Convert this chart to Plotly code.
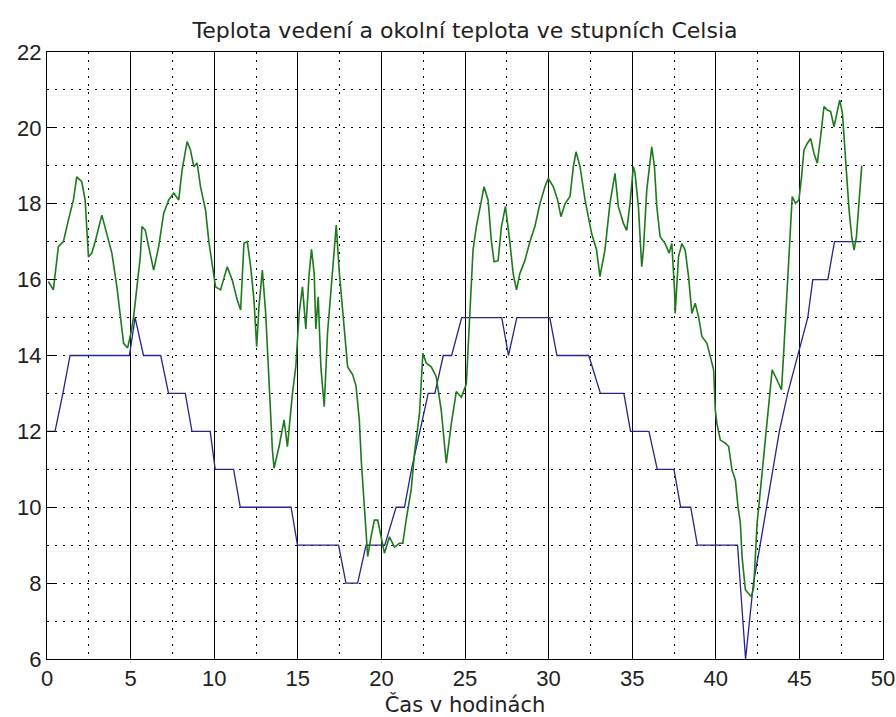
import plotly.graph_objects as go

# Green series: ambient temperature
green_x = [0.08, 0.38, 0.68, 0.98, 1.28, 1.58, 1.78, 2.08, 2.28, 2.48, 2.68, 2.88, 3.28, 3.58, 3.88,
           4.18, 4.38, 4.58, 4.82, 5.02, 5.18, 5.38, 5.58, 5.68, 5.88, 6.08, 6.38, 6.68, 6.98, 7.28,
           7.58, 7.88, 8.08, 8.38, 8.58, 8.78, 8.98, 9.18, 9.48, 9.68, 9.88, 10.08, 10.38, 10.78,
           11.08, 11.38, 11.58, 11.78, 11.98, 12.18, 12.38, 12.54, 12.68, 12.88, 13.08, 13.28, 13.48,
           13.58, 13.88, 14.18, 14.38, 14.68, 14.88, 15.08, 15.28, 15.48, 15.68, 15.82, 15.98, 16.08,
           16.22, 16.38, 16.58, 16.78, 16.98, 17.18, 17.30, 17.48, 17.68, 17.98, 18.28, 18.48, 18.68,
           18.80, 18.98, 19.18, 19.38, 19.58, 19.78, 19.98, 20.18, 20.48, 20.78, 21.08, 21.28, 21.48,
           21.78, 21.98, 22.28, 22.48, 22.68, 22.98, 23.28, 23.58, 23.78, 23.88, 24.18, 24.48, 24.78,
           25.08, 25.28, 25.48, 25.68, 25.88, 26.14, 26.38, 26.58, 26.74, 26.98, 27.18, 27.42, 27.68,
           27.88, 28.08, 28.28, 28.58, 28.88, 29.18, 29.48, 29.78, 29.98, 30.28, 30.54, 30.74, 30.98,
           31.28, 31.48, 31.64, 31.88, 32.18, 32.57, 32.87, 33.07, 33.37, 33.67, 33.97, 34.17, 34.47,
           34.67, 34.87, 35.07, 35.17, 35.37, 35.57, 35.67, 35.87, 36.17, 36.33, 36.47, 36.67, 36.97,
           37.21, 37.37, 37.53, 37.57, 37.77, 37.97, 38.17, 38.37, 38.57, 38.77, 38.97, 39.17, 39.47,
           39.67, 39.87, 39.97, 40.07, 40.27, 40.57, 40.77, 40.97, 41.17, 41.33, 41.47, 41.57, 41.77,
           41.97, 42.13, 42.27, 42.37, 42.47, 42.67, 42.87, 43.07, 43.27, 43.37, 43.57, 43.77, 43.93,
           44.07, 44.27, 44.47, 44.57, 44.77, 44.97, 45.13, 45.27, 45.47, 45.67, 45.87, 46.07, 46.27,
           46.47, 46.67, 46.87, 47.07, 47.27, 47.41, 47.57, 47.73, 47.87, 47.97, 48.13, 48.27, 48.41,
           48.57, 48.73]
green_y = [15.95, 15.73, 16.87, 17.0, 17.57, 18.1, 18.71, 18.58, 18.1, 16.6, 16.7, 17.0, 17.7, 17.22, 16.7,
           15.81, 15.11, 14.32, 14.2, 14.59, 15.02, 15.81, 16.6, 17.4, 17.3, 16.87, 16.25, 16.87, 17.75, 18.1,
           18.28, 18.1, 18.89, 19.64, 19.42, 18.98, 19.07, 18.45, 17.84, 17.0, 16.34, 15.81, 15.73, 16.34,
           15.99, 15.46, 15.2, 16.96, 17.0, 16.34, 15.46, 14.23, 15.3, 16.25, 15.11, 13.35, 11.51,
           11.03, 11.6, 12.3, 11.6, 13.0, 13.7, 15.11, 15.81, 14.7, 16.16, 16.8, 16.16, 14.7,
           15.55, 13.7, 12.65, 14.6, 15.63, 16.87, 17.44, 16.2, 15.11, 13.7, 13.5, 13.2, 12.3,
           11.2, 10.02, 8.7, 9.22, 9.66, 9.66, 9.22, 8.79, 9.22, 8.95, 9.05, 9.05, 9.66,
           10.46, 11.42, 12.48, 14.06, 13.8, 13.7, 13.44, 12.55, 11.6, 11.16, 12.2, 13.05, 12.9,
           13.25, 15.02, 16.78, 17.4, 17.84, 18.45, 18.1, 17.0, 16.47, 16.5, 17.4, 17.93, 17.0,
           16.16, 15.73, 16.16, 16.5, 17.0, 17.4, 18.0, 18.45, 18.67, 18.45, 18.1, 17.66, 18.0,
           18.19, 18.98, 19.37, 18.98, 18.1, 17.22, 16.78, 16.08, 16.78, 18.01, 18.8, 17.93, 17.49,
           17.3, 18.01, 18.98, 18.8, 17.93, 16.34, 16.78, 18.36, 19.5, 18.98, 17.93, 17.13, 16.95,
           16.7, 16.95, 15.73, 15.11, 16.6, 16.95, 16.78, 16.08, 15.11, 15.38, 15.02, 14.5, 14.32,
           13.97, 13.62, 12.56, 12.2, 11.77, 11.69, 11.6, 10.98, 10.72, 10.0, 9.58, 8.7, 7.82,
           7.73, 7.64, 7.9, 8.62, 9.58, 10.46, 11.33, 12.2, 13.0, 13.62, 13.44, 13.27, 13.1,
           14.15, 15.9, 17.49, 18.19, 18.01, 18.1, 18.71, 19.41, 19.59, 19.72, 19.33, 19.07, 19.77,
           20.56, 20.47, 20.43, 20.03, 20.47, 20.73, 20.4, 19.33, 18.36, 17.84, 17.13, 16.78, 17.13,
           18.01, 19.0]

# Blue series: conductor temperature
blue_x = [0.0, 0.48, 0.95, 1.38, 4.93, 5.27, 5.77, 6.8, 7.27, 8.27, 8.67, 9.76, 10.06, 11.16, 11.56,
          14.6, 14.98, 17.44, 17.88, 18.58, 19.08, 20.2, 20.88, 21.38, 21.8, 22.3, 22.8, 23.2, 23.7,
          24.2, 24.8, 27.2, 27.6, 28.1, 30.07, 30.5, 32.4, 33.1, 34.5, 34.9, 36.0, 36.5, 37.5, 37.9,
          38.5, 38.9, 41.3, 41.78, 42.25, 42.65, 43.8, 44.3, 44.9, 45.5, 45.8, 46.7, 47.1, 48.7]
blue_y = [12.0, 12.0, 13.0, 14.0, 14.0, 15.0, 14.0, 14.0, 13.0, 13.0, 12.0, 12.0, 11.0, 11.0, 10.0,
          10.0, 9.0, 9.0, 8.0, 8.0, 9.0, 9.0, 10.0, 10.0, 11.0, 12.0, 13.0, 13.0, 14.0,
          14.0, 15.0, 15.0, 14.0, 15.0, 15.0, 14.0, 14.0, 13.0, 13.0, 12.0, 12.0, 11.0, 11.0, 10.0,
          10.0, 9.0, 9.0, 6.0, 8.0, 9.0, 12.0, 13.0, 14.0, 15.0, 16.0, 16.0, 17.0, 17.0]

x_ticks = [0, 5, 10, 15, 20, 25, 30, 35, 40, 45, 50]
y_ticks = [6, 8, 10, 12, 14, 16, 18, 20, 22]

title_text = "Teplota vedení a okolní teplota ve stupních Celsia"
x_title = "Čas v hodinách"

TICK_FONT = "Liberation Sans, Arial, sans-serif"
TEXT_FONT = "DejaVu Sans, Verdana, sans-serif"

fig = go.Figure()
fig.add_trace(go.Scatter(x=blue_x, y=blue_y, mode="lines",
                         line=dict(color="#25258a", width=1.3), showlegend=False))
fig.add_trace(go.Scatter(x=green_x, y=green_y, mode="lines",
                         line=dict(color="#1c7a1c", width=1.6), showlegend=False))

fig.update_layout(
    width=896, height=717,
    margin=dict(l=47, r=13, t=52, b=58),
    paper_bgcolor="white", plot_bgcolor="white",
    font=dict(family=TICK_FONT, size=22, color="#222"),
    title=dict(text=title_text, x=(47 + 883) / 2 / 896, xanchor="center",
               y=1 - 30 / 717, yanchor="middle", yref="container",
               font=dict(family=TEXT_FONT, size=22, color="#222")),
)

fig.update_xaxes(
    range=[0, 50], tickvals=x_ticks, ticktext=[str(v) for v in x_ticks],
    showgrid=True, gridcolor="black", gridwidth=1,
    ticks="inside", ticklen=8, tickcolor="black",
    showline=True, linecolor="black", linewidth=1, mirror="ticks",
    zeroline=False, automargin=False,
    minor=dict(dtick=2.5, tick0=0, showgrid=True, gridcolor="black", griddash="2px,6px", gridwidth=1),
    title=dict(text=x_title, standoff=10, font=dict(family=TEXT_FONT, size=21, color="#222")),
)
fig.update_yaxes(
    range=[6, 22], tickvals=y_ticks, ticktext=[str(v) for v in y_ticks],
    showgrid=True, gridcolor="black", gridwidth=1, griddash="2px,6px",
    ticks="inside", ticklen=8, tickcolor="black",
    showline=True, linecolor="black", linewidth=1, mirror="ticks",
    zeroline=False, automargin=False,
    minor=dict(dtick=1, tick0=0, showgrid=True, gridcolor="black", griddash="2px,6px", gridwidth=1),
)

fig.write_html("out.html")
